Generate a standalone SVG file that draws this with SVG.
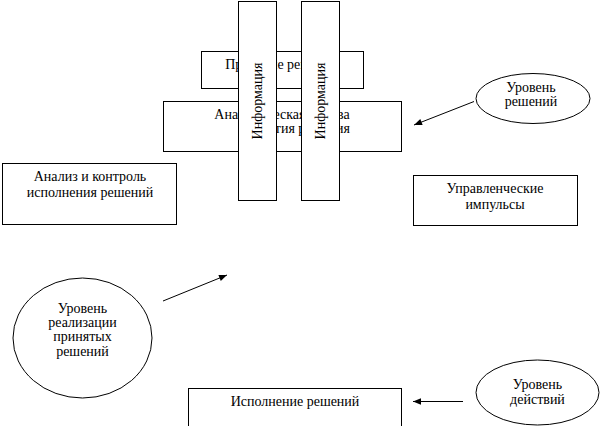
<svg xmlns="http://www.w3.org/2000/svg" width="601" height="426" viewBox="0 0 601 426">
<defs>
<style>
.box{fill:#fff;stroke:#000;stroke-width:1}
.t{font-family:"Liberation Serif","Times New Roman",serif;font-size:14px;fill:#000;text-anchor:middle}
.ln{stroke:#000;stroke-width:1;fill:none}
</style>
<marker id="ah" viewBox="0 0 10 10" refX="10" refY="5" markerWidth="10" markerHeight="8" markerUnits="userSpaceOnUse" orient="auto">
<path d="M0,1 L10,5 L0,9 Z" fill="#000"/>
</marker>
</defs>
<rect width="601" height="426" fill="#fff"/>
<g id="n-prinyatie">
<rect class="box" x="201.5" y="51.5" width="162" height="37"/>
<text class="t" x="282" y="69">Принятие решения</text>
</g>
<g id="n-analiticheskaya">
<rect class="box" x="163.5" y="101.5" width="238" height="50"/>
<text class="t" x="282" y="119">Аналитическая основа</text>
<text class="t" x="350" y="133" style="text-anchor:end">принятия решения</text>
</g>
<g id="n-info1">
<rect class="box" x="238.5" y="1.5" width="38" height="199"/>
<text class="t" transform="translate(262,101) rotate(-90)">Информация</text>
</g>
<g id="n-info2">
<rect class="box" x="301.5" y="1.5" width="38" height="199"/>
<text class="t" transform="translate(325,101) rotate(-90)">Информация</text>
</g>
<g id="n-analiz">
<rect class="box" x="2.5" y="163.5" width="174" height="61"/>
<text class="t" x="90" y="181">Анализ и контроль</text>
<text class="t" x="90" y="197">исполнения решений</text>
</g>
<g id="n-upravl">
<rect class="box" x="413.5" y="175.5" width="164" height="50"/>
<text class="t" x="495" y="193">Управленческие</text>
<text class="t" x="495" y="209">импульсы</text>
</g>
<g id="n-ur-resheniy">
<ellipse class="box" cx="533" cy="98.5" rx="57" ry="25"/>
<text class="t" x="531" y="92">Уровень</text>
<text class="t" x="531" y="106">решений</text>
</g>
<g id="n-ur-realiz">
<ellipse class="box" cx="82.5" cy="338" rx="69.5" ry="60"/>
<text class="t" x="82.5" y="313">Уровень</text>
<text class="t" x="82.5" y="327">реализации</text>
<text class="t" x="82.5" y="341">принятых</text>
<text class="t" x="82.5" y="356">решений</text>
</g>
<g id="n-ispolnenie">
<rect class="box" x="188.5" y="388.5" width="213" height="50"/>
<text class="t" x="295" y="406">Исполнение решений</text>
</g>
<g id="n-ur-deystviy">
<ellipse class="box" cx="537.5" cy="392.5" rx="61.5" ry="32.5"/>
<text class="t" x="537.5" y="389">Уровень</text>
<text class="t" x="537.5" y="404">действий</text>
</g>
<g id="connectors">
<line class="ln" x1="474" y1="101.5" x2="414" y2="125" marker-end="url(#ah)"/>
<line class="ln" x1="163" y1="301" x2="227" y2="275" marker-end="url(#ah)"/>
<line class="ln" x1="463" y1="401.5" x2="413" y2="401.5" marker-end="url(#ah)"/>
</g>
</svg>
